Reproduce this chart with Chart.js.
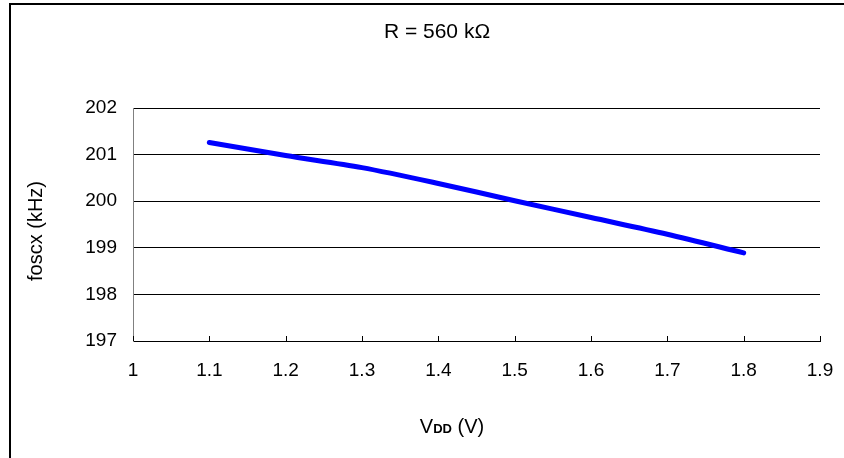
<!DOCTYPE html>
<html>
<head>
<meta charset="utf-8">
<script src="https://cdn.jsdelivr.net/npm/chart.js@4"></script>
<style>
  html, body { margin: 0; padding: 0; background: #fff; }
  #wrap { position: relative; width: 844px; height: 458px; }
</style>
</head>
<body>
<div id="wrap"><canvas id="oscChart"></canvas></div>
<script>
'use strict';

/* fosc vs VDD at R = 560 kΩ */
var vdd   = [1.1, 1.2, 1.3, 1.4, 1.5, 1.6, 1.7, 1.8];
var fosc  = [201.26, 200.98, 200.72, 200.38, 200.01, 199.65, 199.29, 198.89];
var xTicks = [1, 1.1, 1.2, 1.3, 1.4, 1.5, 1.6, 1.7, 1.8, 1.9];
var yTicks = [197, 198, 199, 200, 201, 202];

var FONT = '"Liberation Sans", Arial, sans-serif';

(function () {
    var canvas = document.getElementById('oscChart');
    if (typeof window.Chart === 'undefined' || !canvas) return;

    /* frame, inward x ticks and titles */
    var decor = {
        id: 'decor',
        beforeDraw: function (chart) {
            var ctx = chart.ctx;
            ctx.save();
            ctx.strokeStyle = '#000';
            ctx.lineWidth = 2;
            ctx.strokeRect(10, 4, 900, 500);
            ctx.restore();
        },
        afterDraw: function (chart) {
            var ctx = chart.ctx, x = chart.scales.x, area = chart.chartArea;
            ctx.save();
            ctx.strokeStyle = '#000';
            ctx.lineWidth = 1;
            x.ticks.forEach(function (t) {
                var px = Math.round(x.getPixelForValue(t.value)) + 0.5;
                ctx.beginPath();
                ctx.moveTo(px, area.bottom);
                ctx.lineTo(px, area.bottom - 5);
                ctx.stroke();
            });

            ctx.fillStyle = '#000';
            ctx.textBaseline = 'alphabetic';

            // title
            ctx.font = '21px ' + FONT;
            ctx.textAlign = 'center';
            ctx.fillText('R = 560 k\u03A9', 437, 38);

            // x title: V + bold subscript DD + (V)
            var p1 = 'V', p2 = 'DD', p3 = ' (V)';
            ctx.font = '20px ' + FONT;
            var w1 = ctx.measureText(p1).width, w3 = ctx.measureText(p3).width;
            ctx.font = 'bold 13px ' + FONT;
            var w2 = ctx.measureText(p2).width;
            var sx = 452 - (w1 + w2 + w3) / 2;
            ctx.textAlign = 'left';
            ctx.font = '20px ' + FONT;
            ctx.fillText(p1, sx, 433);
            ctx.font = 'bold 13px ' + FONT;
            ctx.fillText(p2, sx + w1, 433);
            ctx.font = '20px ' + FONT;
            ctx.fillText(p3, sx + w1 + w2, 433);

            // y title
            ctx.translate(42, 231);
            ctx.rotate(-Math.PI / 2);
            ctx.textAlign = 'center';
            ctx.font = '20px ' + FONT;
            ctx.fillText('foscx (kHz)', 0, 0);
            ctx.restore();
        }
    };

    new Chart(canvas.getContext('2d'), {
        type: 'line',
        data: {
            datasets: [{
                data: vdd.map(function (v, i) { return { x: v, y: fosc[i] }; }),
                borderColor: '#0000FF',
                borderWidth: 5,
                borderCapStyle: 'round',
                borderJoinStyle: 'round',
                tension: 0.3,
                pointRadius: 0,
                fill: false,
            }],
        },
        options: {
            responsive: true,
            maintainAspectRatio: false,
            animation: false,
            layout: { padding: { top: 108, right: 24, left: 0, bottom: 0 } },
            plugins: { legend: { display: false }, tooltip: { enabled: false } },
            scales: {
                x: {
                    type: 'linear',
                    min: 1, max: 1.9,
                    afterBuildTicks: function (s) { s.ticks = xTicks.map(function (v) { return { value: v }; }); },
                    afterFit: function (s) { s.height = 117; s.paddingLeft = 0; s.paddingRight = 0; },
                    grid: { display: false },
                    border: { display: true, color: '#000', width: 1 },
                    ticks: {
                        color: '#000', padding: 10, maxRotation: 0, autoSkip: false,
                        font: { family: FONT, size: 19 },
                        callback: function (v) { return String(Math.round(v * 10) / 10); },
                    },
                },
                y: {
                    min: 197, max: 202,
                    afterBuildTicks: function (s) { s.ticks = yTicks.map(function (v) { return { value: v }; }); },
                    afterFit: function (s) { s.width = 133; s.paddingTop = 0; s.paddingBottom = 0; },
                    grid: { color: '#000', lineWidth: 1, drawTicks: false },
                    border: { display: true, color: '#808080', width: 1 },
                    ticks: {
                        color: '#000', padding: 16,
                        font: { family: FONT, size: 19 },
                        callback: function (v) { return String(v); },
                    },
                },
            },
        },
        plugins: [decor],
    });
})();
</script>
</body>
</html>
